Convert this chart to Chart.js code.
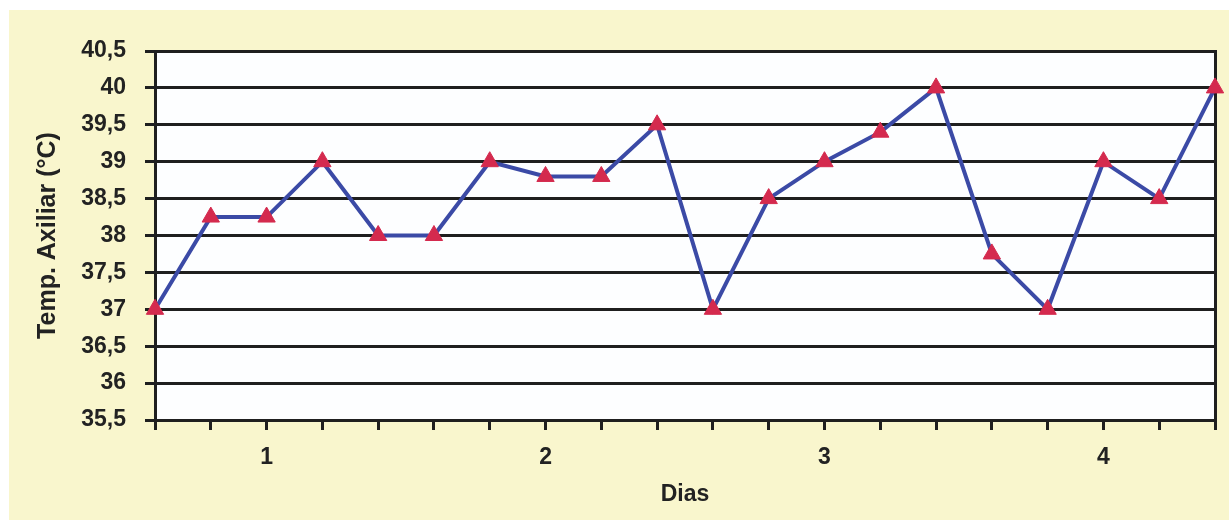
<!DOCTYPE html>
<html>
<head>
<meta charset="utf-8">
<script src="https://cdn.jsdelivr.net/npm/chart.js@4.4.1/dist/chart.umd.min.js"></script>
<style>
  html, body { margin: 0; padding: 0; background: #ffffff; }
  #wrap { position: absolute; left: 9px; top: 10px; width: 1220px; height: 510px; background: #f9f6cd; }
  canvas { display: block; }
</style>
</head>
<body>
<div id="wrap"><canvas id="c" width="1220" height="510"></canvas></div>
<script>
// Data
const categories = ['', '', '1', '', '', '', '', '2', '', '', '', '', '3', '', '', '', '', '4', '', ''];
const temperatures = [37, 38.25, 38.25, 39, 38, 38, 39, 38.8, 38.8, 39.5, 37, 38.5, 39, 39.4, 40, 37.75, 37, 39, 38.5, 40];
const yMin = 35.5;
const yMax = 40.5;
const yStep = 0.5;
const xTitle = 'Dias';
const yTitle = 'Temp. Axiliar (°C)';

const plotBg = {
  id: 'plotBg',
  beforeDraw(chart) {
    const {ctx, chartArea: a} = chart;
    ctx.save();
    ctx.fillStyle = '#fdfeff';
    ctx.fillRect(a.left, a.top, a.right - a.left, a.bottom - a.top);
    ctx.restore();
  }
};

const FONT = "'Liberation Sans', Arial, Helvetica, sans-serif";
const INK = '#1f1f1f';

new Chart(document.getElementById('c'), {
  type: 'line',
  data: {
    labels: categories,
    datasets: [{
      data: temperatures,
      borderColor: '#3b4aa6',
      borderWidth: 4,
      tension: 0,
      pointStyle: 'triangle',
      pointRadius: 10,
      pointHoverRadius: 10,
      pointBackgroundColor: '#d42a4e',
      pointBorderColor: '#d42a4e',
      pointBorderWidth: 1,
      clip: false
    }]
  },
  options: {
    responsive: false,
    maintainAspectRatio: false,
    animation: false,
    events: [],
    layout: { padding: { top: 41, right: 13, bottom: 0, left: 0 } },
    plugins: { legend: { display: false }, tooltip: { enabled: false } },
    scales: {
      x: {
        type: 'category',
        offset: false,
        border: { display: true, color: INK, width: 3 },
        grid: { drawOnChartArea: false, drawTicks: true, tickLength: 10, color: INK, lineWidth: 3 },
        ticks: { autoSkip: false, maxRotation: 0, minRotation: 0, padding: 14, color: '#222', font: { family: FONT, size: 23, weight: 'bold' } },
        title: { display: true, text: xTitle, color: '#222', padding: { top: 0, bottom: 12 }, font: { family: FONT, size: 23, weight: 'bold' } },
        afterFit(scale) { scale.height = 100; }
      },
      y: {
        min: yMin,
        max: yMax,
        border: { display: true, color: INK, width: 3 },
        grid: { drawOnChartArea: true, drawTicks: true, tickLength: 10, color: INK, lineWidth: 3 },
        ticks: {
          stepSize: yStep,
          padding: 19,
          color: '#222',
          font: { family: FONT, size: 23, weight: 'bold' },
          callback: (v) => String(v).replace('.', ',')
        },
        title: { display: true, text: yTitle, color: '#222', padding: { top: 24, bottom: 0 }, font: { family: FONT, size: 25, weight: 'bold' } },
        afterFit(scale) { scale.width = 146; }
      },
      y2: {
        position: 'right',
        border: { display: true, color: INK, width: 3 },
        grid: { drawOnChartArea: false, drawTicks: false },
        ticks: { display: false },
        afterFit(scale) { scale.width = 0; }
      }
    }
  },
  plugins: [plotBg]
});
</script>
</body>
</html>
